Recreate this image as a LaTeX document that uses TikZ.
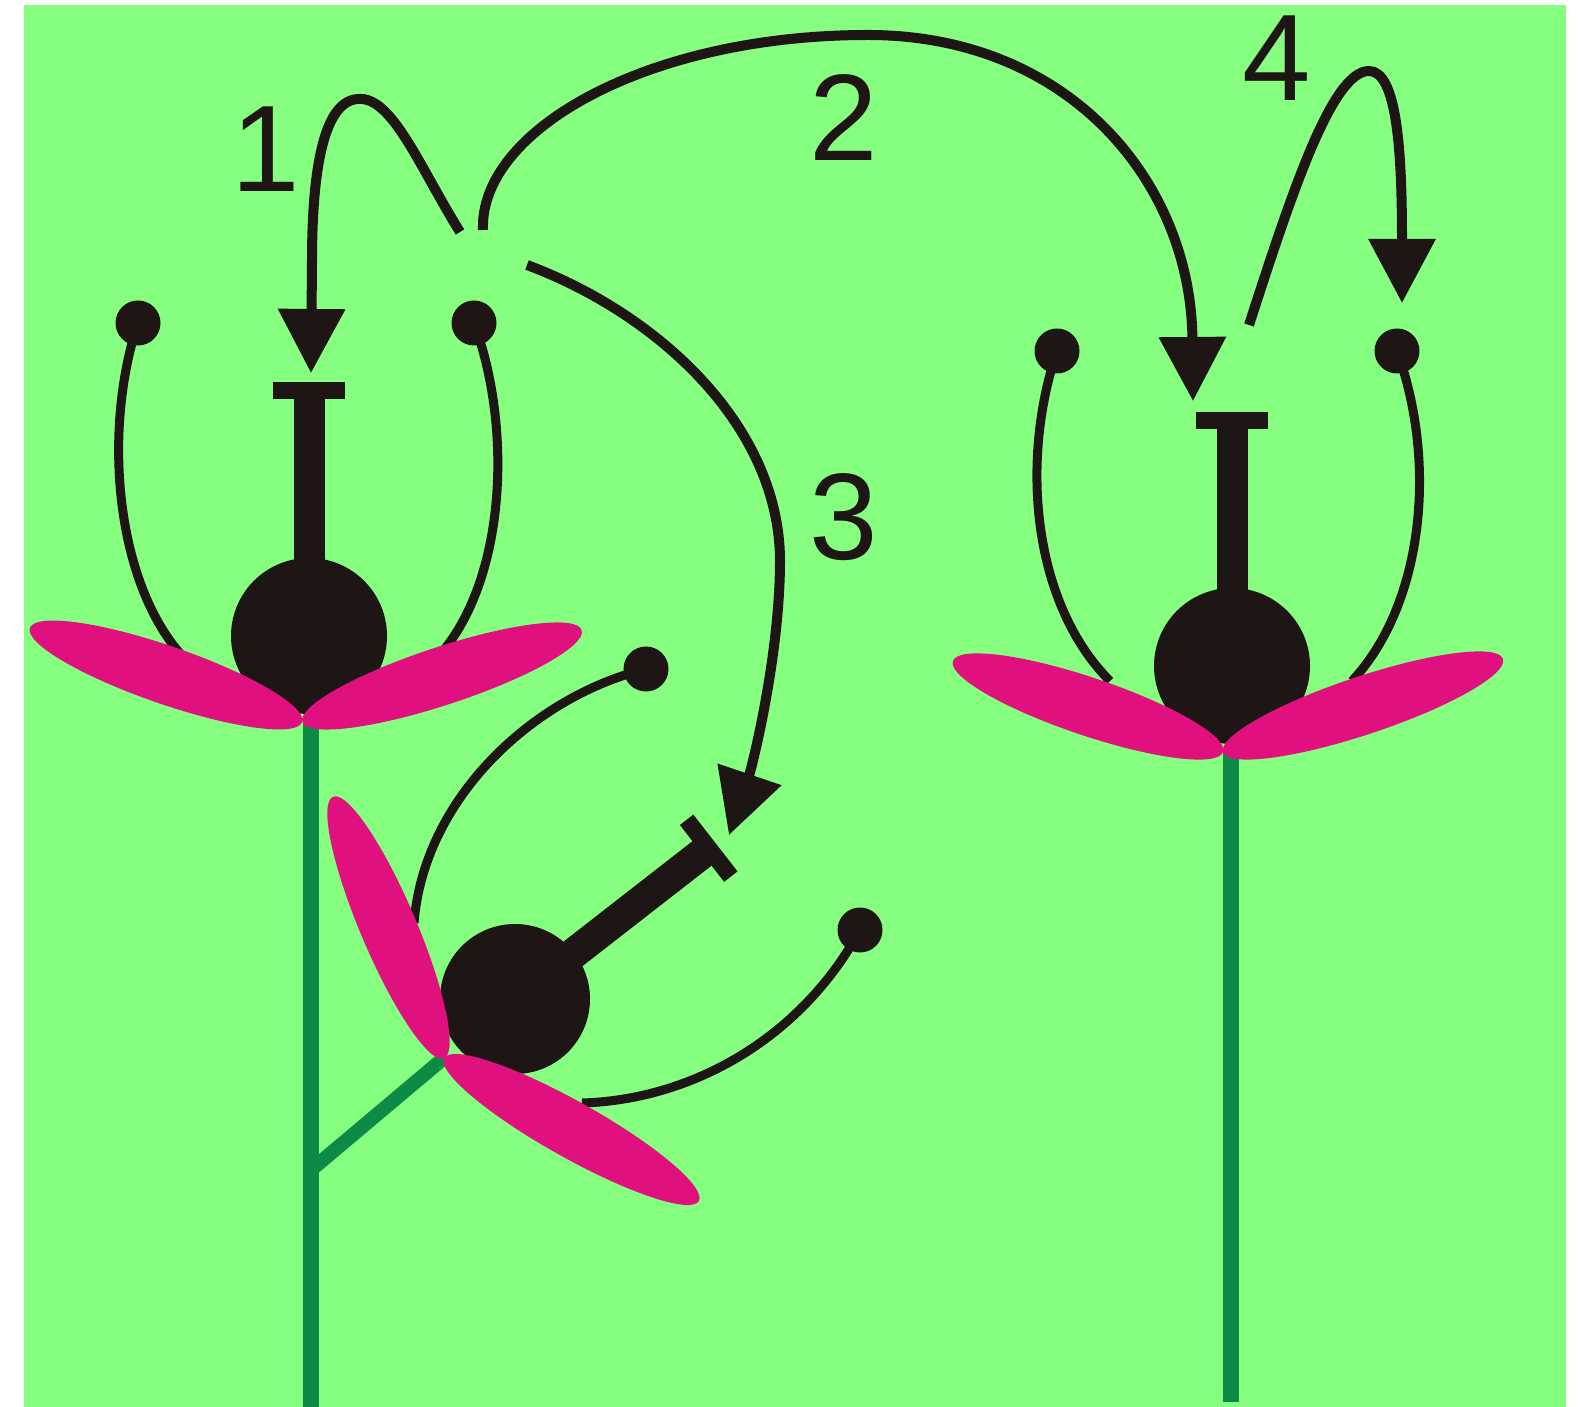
\documentclass[tikz,border=0pt]{standalone}
\usepackage{fontspec}
\setmainfont{Liberation Sans}
\usetikzlibrary{arrows.meta}
\definecolor{meadow}{RGB}{134,255,128}
\definecolor{petalpink}{RGB}{224,17,127}
\definecolor{stemgreen}{RGB}{12,138,70}
\definecolor{ink}{RGB}{30,21,21}
\tikzset{
  petal/.style={fill=petalpink},
  stemline/.style={draw=stemgreen, line width=0.16cm},
  filament/.style={draw=ink, line width=0.09cm},
  pollen/.style={draw=ink, line width=0.1cm, -{Triangle[length=0.64cm,width=0.65cm]}},
  num/.style={font=\fontsize{35}{42}\selectfont, text=ink, anchor=base, inner sep=0pt}
}
\begin{document}
\begin{tikzpicture}[x=0.01cm, y=-0.01cm]
    \useasboundingbox (0,0) rectangle (1582,1407);
    \fill[white] (0,0) rectangle (1582,1407);
    \clip (24,5) rectangle (1566,1407);
    \fill[meadow] (24,5) rectangle (1566,1407);

    \coordinate (j1) at (311,722);
    \coordinate (j2) at (444,1058);
    \coordinate (j3) at (1231,752);
    \coordinate (fork) at (311,1170);

    \draw[stemline] (j1) -- (311,1407);
    \draw[stemline, line width=0.14cm] (fork) -- (j2);
    \draw[stemline] (j3) -- (1231,1402);

    \coordinate (a1) at (138,323);
    \coordinate (a2) at (474,323);
    \coordinate (a3) at (1057,351);
    \coordinate (a4) at (1397,351);
    \coordinate (a5) at (646,669);
    \coordinate (a6) at (860,930);

    \draw[filament] (a1) .. controls (101,434) and (116,595) .. (192,666);
    \draw[filament] (a2) .. controls (515,434) and (505,595) .. (429,666);
    \draw[filament] (a3) .. controls (1019,464) and (1034,605) .. (1110,681);
    \draw[filament] (a4) .. controls (1438,464) and (1423,605) .. (1352,681);
    \draw[filament] (414,923) .. controls (424,797) and (535,696) .. (a5);
    \draw[filament] (582,1103) .. controls (690,1100) and (800,1040) .. (a6);
    \foreach \a in {a1,a2,a3,a4,a5,a6}
        \fill[ink] (\a) circle (22.5);

    \foreach \cx/\cy/\turn/\r in {309/636/0/78, 1232/666/0/78, 515/999/-52.1/75} {
        \begin{scope}[shift={(\cx,\cy)}, rotate=\turn]
            \fill[ink] (0,0) circle (\r);
            \fill[ink] (-15.5,0) rectangle (15.5,-240);
            \fill[ink] (-36,-237) rectangle (36,-254);
        \end{scope}
    }

    \fill[petal, rotate around={-19.06:(166,675)}] (166,675) ellipse [x radius=144, y radius=29];
    \fill[petal, rotate around={18.2:(442,676)}] (442,676) ellipse [x radius=147, y radius=29];
    \fill[petal, rotate around={-18.6:(1088,706.5)}] (1088,706.5) ellipse [x radius=142.5, y radius=29];
    \fill[petal, rotate around={18.4:(1363,705.5)}] (1363,705.5) ellipse [x radius=147.5, y radius=29];
    \fill[petal, rotate around={113:(388.5,927.5)}] (388.5,927.5) ellipse [x radius=142, y radius=28];
    \fill[petal, rotate around={-29.3:(571.5,1129.5)}] (571.5,1129.5) ellipse [x radius=146, y radius=28];

    \coordinate (s1) at (460,232);
    \coordinate (t1) at (311,373);
    \coordinate (s2) at (483,230);
    \coordinate (t2) at (1193,401);
    \coordinate (s3) at (527,265);
    \coordinate (t3) at (729,835);
    \coordinate (s4) at (1249,325);
    \coordinate (t4) at (1402,303);

    \draw[pollen] (s1) .. controls (419,166) and (392,96) .. (358,99) .. controls (323,101) and (312,172) .. (312,262) -- (t1);
    \draw[pollen] (s2) .. controls (479,131) and (646,35) .. (868,35) .. controls (1069,35) and (1191,182) .. (t2);
    \draw[pollen] (s3) .. controls (656,313) and (779,424) .. (780,560) .. controls (780,656) and (752,767) .. (t3);
    \draw[pollen] (s4) .. controls (1292,192) and (1332,71) .. (1369,71) .. controls (1397,71) and (1402,151) .. (t4);

    \node[num] (n1) at (266,192) {1};
    \node[num] (n2) at (844,161) {2};
    \node[num] (n3) at (844,560) {3};
    \node[num] (n4) at (1277,101) {4};
\end{tikzpicture}
\end{document}
